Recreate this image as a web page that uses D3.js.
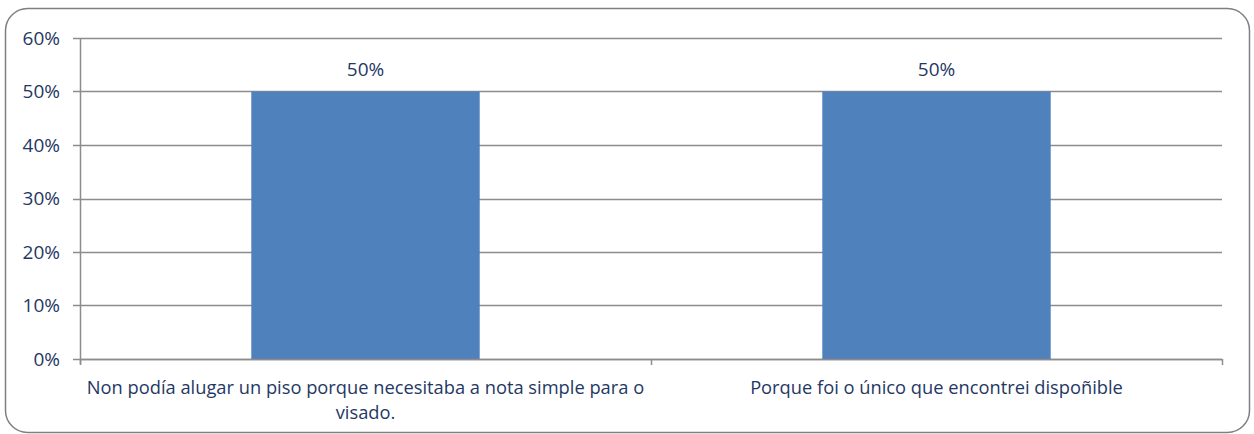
<!DOCTYPE html>
<html>
<head>
<meta charset="utf-8">
<script src="https://cdn.jsdelivr.net/npm/d3@7"></script>
<style>
  html, body { margin: 0; padding: 0; background: #fff; }
  svg { display: block; }
</style>
</head>
<body>
<svg id="chart" width="1254" height="434"></svg>
<script>
// Data
const categories = [
  "Non podía alugar un piso porque necesitaba a nota simple para o visado.",
  "Porque foi o único que encontrei dispoñible"
];
const values = [0.5, 0.5];
const yTicks = [0, 0.1, 0.2, 0.3, 0.4, 0.5, 0.6];

const W = 1254, H = 434;
const margin = { left: 80, right: 32, top: 38, bottom: 75 };
const textColor = "#1F3864";
const gridColor = "#8C8C8C";
const barColor = "#4F81BD";
const fontFamily = "'Open Sans', Lato, sans-serif";
const numberSize = "19px";
const labelSize = "18.3px";

const svg = d3.select("#chart");

// Rounded chart frame
svg.append("rect")
  .attr("x", 5.5).attr("y", 8.5)
  .attr("width", W - 10).attr("height", H - 10)
  .attr("rx", 22).attr("ry", 22)
  .attr("fill", "#fff")
  .attr("stroke", "#7F7F7F")
  .attr("stroke-width", 1.5);

const x = d3.scaleBand()
  .domain(categories)
  .range([margin.left, W - margin.right])
  .paddingInner(0.6)
  .paddingOuter(0.3);

const y = d3.scaleLinear()
  .domain([0, 0.6])
  .range([H - margin.bottom, margin.top]);

// Gridlines
svg.append("g")
  .selectAll("line")
  .data(yTicks)
  .join("line")
  .attr("x1", margin.left - 7)
  .attr("x2", W - margin.right)
  .attr("y1", d => Math.round(y(d)) + 0.5)
  .attr("y2", d => Math.round(y(d)) + 0.5)
  .attr("stroke", gridColor)
  .attr("stroke-width", 1.5);

// Y axis labels
const yAxis = d3.axisLeft(y)
  .tickValues(yTicks)
  .tickFormat(d3.format(".0%"))
  .tickSize(0)
  .tickPadding(20);
const gy = svg.append("g")
  .attr("transform", `translate(${margin.left},0)`)
  .call(yAxis);
gy.select(".domain").remove();
gy.selectAll("text")
  .attr("fill", textColor)
  .style("font-family", fontFamily)
  .style("font-size", numberSize);

// Y axis line
svg.append("line")
  .attr("x1", margin.left + 0.5).attr("x2", margin.left + 0.5)
  .attr("y1", y(0.6)).attr("y2", y(0) + 5)
  .attr("stroke", gridColor).attr("stroke-width", 1.5);

// Bars
svg.append("g")
  .selectAll("rect")
  .data(values)
  .join("rect")
  .attr("x", (d, i) => x(categories[i]))
  .attr("width", x.bandwidth())
  .attr("y", d => y(d))
  .attr("height", d => y(0) - y(d))
  .attr("fill", barColor);

// Value labels
svg.append("g")
  .selectAll("text")
  .data(values)
  .join("text")
  .attr("x", (d, i) => x(categories[i]) + x.bandwidth() / 2)
  .attr("y", d => y(d) - 16)
  .attr("text-anchor", "middle")
  .attr("fill", textColor)
  .style("font-family", fontFamily)
  .style("font-size", numberSize)
  .text(d => d3.format(".0%")(d));

// X axis baseline and category ticks
const x0 = margin.left, x1 = W - margin.right;
svg.append("line")
  .attr("x1", x0).attr("x2", x1)
  .attr("y1", Math.round(y(0)) + 0.5).attr("y2", Math.round(y(0)) + 0.5)
  .attr("stroke", gridColor).attr("stroke-width", 1.5);
const boundaries = d3.range(categories.length + 1).map(i => x0 + (x1 - x0) * i / categories.length);
svg.append("g")
  .selectAll("line")
  .data(boundaries)
  .join("line")
  .attr("x1", d => d + 0.5).attr("x2", d => d + 0.5)
  .attr("y1", y(0)).attr("y2", y(0) + 6)
  .attr("stroke", gridColor).attr("stroke-width", 1.5);

// Category labels with word wrapping inside each category slot
const slot = (x1 - x0) / categories.length;
svg.append("g")
  .selectAll("text")
  .data(categories)
  .join("text")
  .attr("text-anchor", "middle")
  .attr("fill", textColor)
  .style("font-family", fontFamily)
  .style("font-size", labelSize)
  .each(function(d, i) {
    const t = d3.select(this);
    const cx = x0 + slot * (i + 0.5);
    const words = d.split(" ");
    const lines = [];
    let line = [];
    const probe = t.append("tspan");
    words.forEach(w => {
      const test = line.concat(w).join(" ");
      probe.text(test);
      if (probe.node().getComputedTextLength() > slot - 4 && line.length) {
        lines.push(line.join(" "));
        line = [w];
      } else {
        line.push(w);
      }
    });
    lines.push(line.join(" "));
    probe.remove();
    lines.forEach((l, k) => {
      t.append("tspan")
        .attr("x", cx)
        .attr("y", y(0) + 35 + k * 25)
        .text(l);
    });
  });
</script>
</body>
</html>
